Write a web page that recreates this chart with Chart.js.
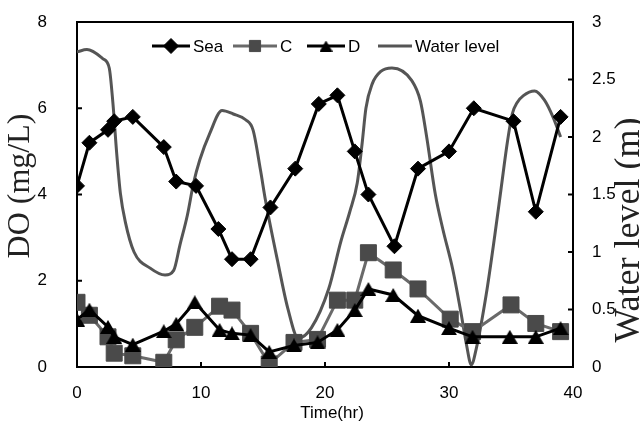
<!DOCTYPE html>
<html>
<head>
<meta charset="utf-8">
<script src="https://cdn.jsdelivr.net/npm/chart.js@4.4.0/dist/chart.umd.min.js"></script>
<style>
  html, body { margin: 0; padding: 0; background: #fff; }
</style>
</head>
<body>
<canvas id="doChart" width="640" height="431"></canvas>
<script>
// --- Data ---
const seaTime = [0, 1, 2.5, 3, 4.5, 7, 8, 9.6, 11.4, 12.5, 14, 15.6, 17.6, 19.5, 21, 22.4, 23.5, 25.6, 27.5, 30, 32, 35.2, 37, 39];
const seaDO   = [4.2, 5.2, 5.5, 5.7, 5.8, 5.1, 4.3, 4.2, 3.2, 2.5, 2.5, 3.7, 4.6, 6.1, 6.3, 5.0, 4.0, 2.8, 4.6, 5.0, 6.0, 5.7, 3.6, 5.8];

const cTime = [0, 1, 2.5, 3, 4.5, 7, 8, 9.5, 11.5, 12.5, 14, 15.5, 17.5, 19.4, 21, 22.4, 23.5, 25.5, 27.5, 30.1, 31.9, 35, 37, 39];
const cDO   = [1.5, 1.2, 0.7, 0.32, 0.26, 0.11, 0.63, 0.92, 1.41, 1.32, 0.78, 0.07, 0.57, 0.64, 1.55, 1.55, 2.65, 2.25, 1.81, 1.11, 0.82, 1.44, 1.01, 0.82];

const dTime = [0, 1, 2.5, 3, 4.5, 7, 8, 9.5, 11.5, 12.5, 14, 15.5, 17.5, 19.4, 21, 22.4, 23.5, 25.5, 27.5, 30, 31.9, 34.9, 37, 39];
const dDO   = [1.1, 1.33, 0.93, 0.7, 0.52, 0.83, 1.0, 1.5, 0.86, 0.78, 0.74, 0.35, 0.5, 0.57, 0.86, 1.32, 1.81, 1.67, 1.19, 0.9, 0.7, 0.7, 0.7, 0.9];

const waterTime  = [0, 0.8, 2.1, 2.6, 2.9, 3.2, 3.5, 3.9, 4.6, 5.9, 7.1, 7.8, 8.3, 8.9, 9.4, 9.9, 10.7, 11.7, 12.6, 13.6,
                    14.2, 14.8, 15.2, 16.2, 17.0, 17.85, 18.9, 20.3, 21.3, 22.0, 22.6, 23.0, 23.3, 23.8, 24.5, 25.4, 27.0, 27.7, 28.2, 28.9,
                    29.5, 30.3, 31.0, 31.4, 31.8, 32.2, 33.0, 33.7, 34.2, 34.7, 35.1, 35.5, 36.0, 36.9, 37.7, 38.4, 39.0];
const waterLevel = [2.74, 2.76, 2.68, 2.6, 2.29, 1.86, 1.51, 1.26, 1.0, 0.86, 0.8, 0.84, 1.06, 1.32, 1.6, 1.8, 2.03, 2.23, 2.2, 2.15,
                    2.06, 1.71, 1.45, 0.91, 0.51, 0.25, 0.34, 0.68, 1.1, 1.35, 1.6, 1.95, 2.25, 2.46, 2.57, 2.6, 2.49, 2.31, 2.0, 1.5,
                    1.2, 0.85, 0.45, 0.2, 0.02, 0.16, 0.63, 1.15, 1.55, 1.95, 2.2, 2.3, 2.36, 2.4, 2.32, 2.17, 2.0];

const timeTicks  = [0, 10, 20, 30, 40];
const doTicks    = [0, 2, 4, 6, 8];
const levelTicks = [0, 0.5, 1, 1.5, 2, 2.5, 3];

const toPoints = (xs, ys) => xs.map((x, i) => ({ x: x, y: ys[i] }));

// Excel-like triangle marker, centred on its box
function makeTriangle(w, h, color) {
  const c = document.createElement('canvas');
  c.width = w; c.height = h;
  const g = c.getContext('2d');
  g.fillStyle = color;
  g.beginPath();
  g.moveTo(w / 2, 0);
  g.lineTo(w, h);
  g.lineTo(0, h);
  g.closePath();
  g.fill();
  return c;
}
const triangleMark = makeTriangle(16, 14, '#000');
const triangleSmall = makeTriangle(13, 11, '#000');

// --- Frame, inward ticks, legend and titles ---
const legendLayout = [
  { x0: 152, x1: 190, size: 1 },
  { x0: 233, x1: 277, size: 0.7 },
  { x0: 307, x1: 345, size: 1 },
  { x0: 378, x1: 412, size: 1 }
];

const excelLook = {
  id: 'excelLook',
  afterDraw(chart) {
    const { ctx, chartArea: a, scales } = chart;
    ctx.save();
    ctx.strokeStyle = '#000';
    ctx.lineWidth = 2;
    ctx.beginPath();
    ctx.moveTo(a.left - 1, a.top);
    ctx.lineTo(a.right + 1, a.top);
    ctx.stroke();

    // inward tick marks
    const len = 5;
    ctx.beginPath();
    timeTicks.forEach(v => {
      const px = scales.x.getPixelForValue(v);
      ctx.moveTo(px, a.bottom); ctx.lineTo(px, a.bottom - len);
    });
    doTicks.forEach(v => {
      const py = scales.y.getPixelForValue(v);
      ctx.moveTo(a.left, py); ctx.lineTo(a.left + len, py);
    });
    levelTicks.forEach(v => {
      const py = scales.y1.getPixelForValue(v);
      ctx.moveTo(a.right, py); ctx.lineTo(a.right - len, py);
    });
    ctx.stroke();

    // legend inside the plot
    const ly = 46;
    ctx.font = '17px "Liberation Sans", Arial, sans-serif';
    ctx.textBaseline = 'middle';
    ctx.textAlign = 'left';
    chart.data.datasets.forEach((ds, i) => {
      const pos = legendLayout[i];
      ctx.strokeStyle = ds.borderColor;
      ctx.lineWidth = ds.borderWidth;
      ctx.beginPath();
      ctx.moveTo(pos.x0, ly); ctx.lineTo(pos.x1, ly);
      ctx.stroke();
      if (ds.pointRadius > 0) {
        ctx.fillStyle = ds.pointBackgroundColor;
        ctx.strokeStyle = ds.pointBorderColor;
        ctx.lineWidth = 1;
        const style = ds.pointStyle === triangleMark ? triangleSmall : ds.pointStyle;
        Chart.helpers.drawPoint(ctx, { pointStyle: style, radius: ds.pointRadius * pos.size, rotation: 0, borderWidth: 1 }, (pos.x0 + pos.x1) / 2, ly);
      }
      ctx.fillStyle = '#000';
      ctx.fillText(ds.label, pos.x1 + 3, ly + 1);
    });

    // axis titles
    ctx.fillStyle = '#000';
    ctx.font = '17px "Liberation Sans", Arial, sans-serif';
    ctx.textAlign = 'center';
    ctx.fillText('Time(hr)', 332, 413);

    ctx.fillStyle = '#222';
    ctx.font = '32px "Liberation Serif", "Times New Roman", serif';
    ctx.save();
    ctx.translate(21, 186);
    ctx.rotate(-Math.PI / 2);
    ctx.fillText('DO (mg/L)', 0, 0);
    ctx.restore();
    ctx.font = '36px "Liberation Serif", "Times New Roman", serif';
    ctx.save();
    ctx.translate(630, 230);
    ctx.rotate(-Math.PI / 2);
    ctx.fillText('Water level (m)', 0, 0);
    ctx.restore();
    ctx.restore();
  }
};

const tickFont = { family: '"Liberation Sans", Arial, sans-serif', size: 17 };

const ctxDO = document.getElementById('doChart');
const doChart = new Chart(ctxDO, {
  type: 'line',
  data: {
    datasets: [
      { label: 'Sea', data: toPoints(seaTime, seaDO), yAxisID: 'y', order: 0,
        borderColor: '#000', borderWidth: 3, pointStyle: 'rectRot', pointRadius: 7.5,
        pointBackgroundColor: '#000', pointBorderColor: '#000', pointBorderWidth: 1 },
      { label: 'C', data: toPoints(cTime, cDO), yAxisID: 'y', order: 2,
        borderColor: '#6a6a6a', borderWidth: 3, pointStyle: 'rect', pointRadius: 11.3,
        pointBackgroundColor: '#4a4a4a', pointBorderColor: '#4a4a4a', pointBorderWidth: 1 },
      { label: 'D', data: toPoints(dTime, dDO), yAxisID: 'y', order: 1,
        borderColor: '#000', borderWidth: 3, pointStyle: triangleMark, pointRadius: 8,
        pointBackgroundColor: '#000', pointBorderColor: '#000', pointBorderWidth: 0 },
      { label: 'Water level', data: toPoints(waterTime, waterLevel), yAxisID: 'y1', order: 3,
        borderColor: '#555', borderWidth: 3, pointRadius: 0, cubicInterpolationMode: 'monotone' }
    ]
  },
  options: {
    responsive: false,
    animation: false,
    devicePixelRatio: 1,
    layout: { padding: { top: 22, left: 0, right: 0, bottom: 0 } },
    plugins: { legend: { display: false }, tooltip: { enabled: false } },
    scales: {
      x: {
        type: 'linear', min: 0, max: 40,
        afterBuildTicks: s => { s.ticks = timeTicks.map(v => ({ value: v })); },
        afterFit: s => { s.height = 64; s.paddingLeft = 0; s.paddingRight = 0; },
        grid: { display: false, drawTicks: false },
        border: { display: true, color: '#000', width: 2 },
        ticks: { color: '#000', font: tickFont, padding: 16 }
      },
      y: {
        position: 'left', min: 0, max: 8,
        afterBuildTicks: s => { s.ticks = doTicks.map(v => ({ value: v })); },
        afterFit: s => { s.width = 77; s.paddingTop = 0; s.paddingBottom = 0; },
        grid: { display: false, drawTicks: false },
        border: { display: true, color: '#000', width: 2 },
        ticks: { color: '#000', font: tickFont, padding: 30 }
      },
      y1: {
        position: 'right', min: 0, max: 3,
        afterBuildTicks: s => { s.ticks = levelTicks.map(v => ({ value: v })); },
        afterFit: s => { s.width = 67; s.paddingTop = 0; s.paddingBottom = 0; },
        grid: { display: false, drawTicks: false },
        border: { display: true, color: '#000', width: 2 },
        ticks: { color: '#000', font: tickFont, padding: 19, callback: v => String(v) }
      }
    }
  },
  plugins: [excelLook]
});
</script>
</body>
</html>
